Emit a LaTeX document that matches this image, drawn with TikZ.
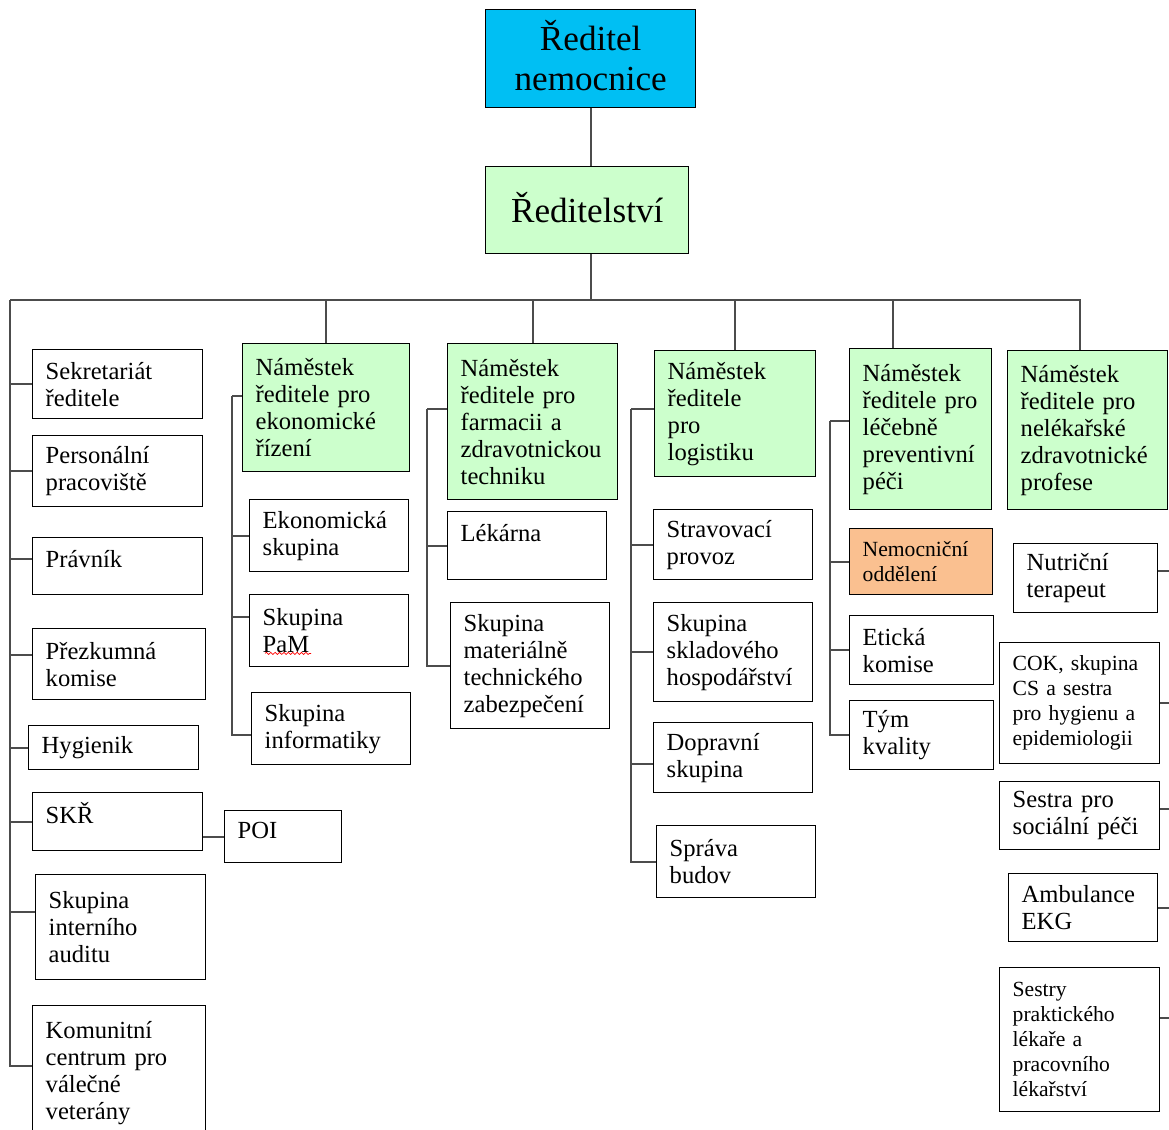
\documentclass[tikz,border=0pt]{standalone}
\usepackage{fontspec}
\setmainfont{Liberation Serif}
\usetikzlibrary{decorations.pathmorphing}
\newcommand{\pxu}{0.02cm}
\definecolor{dircyan}{RGB}{0,191,243}
\definecolor{depgreen}{RGB}{204,255,204}
\definecolor{wardorange}{RGB}{250,192,144}
\tikzset{bx/.style 2 args={draw, line width=.8pt, anchor=north west, align=left,
    inner xsep=13*\pxu, inner ysep=2pt, minimum width=#1*\pxu,
    minimum height=#2*\pxu, text width=(#1-26)*\pxu,
    execute at begin node={\hyphenpenalty=10000},
    font=\fontsize{14}{15.4}\selectfont}}
\tikzset{big/.style={font=\fontsize{20}{22.7}\selectfont, align=center, text height=14pt}}
\tikzset{smalltxt/.style={font=\fontsize{12.3}{14.2}\selectfont}}
\tikzset{ln/.style={draw=black!70, line width=.9pt}}

\begin{document}
\begin{tikzpicture}[x=\pxu, y=-\pxu]
    \path[fill=white, use as bounding box] (0,0) rectangle (1169,1129);
    % top
    \node[bx={210}{98}, fill=dircyan, big] (red) at (485,9) {Ředitel\\nemocnice};
    \node[bx={203}{87}, fill=depgreen, big] (redst) at (485,166) {Ředitelství};
    \coordinate (bl) at (10,300);
    % left column
    \node[bx={170}{69}] (sekr) at (32,349) {Sekretariát\\ředitele};
    \node[bx={170}{71}] (pers) at (32,435) {Personální\\pracoviště};
    \node[bx={170}{57}, text depth=8pt] (prav) at (32,537) {Právník};
    \node[bx={173}{71}] (prez) at (32,628) {Přezkumná\\komise};
    \node[bx={170}{44}] (hyg) at (28,725) {Hygienik};
    \node[bx={170}{58}, text depth=10pt] (skr) at (32,792) {SKŘ};
    \node[bx={117}{52}, text depth=7pt] (poi) at (224,810) {POI};
    \node[bx={170}{105}] (aud) at (35,874) {Skupina\\interního\\auditu};
    \node[bx={173}{135}] (kom) at (32,1005) {Komunitní\\centrum pro\\válečné\\veterány};
    % ekonomika
    \node[bx={167}{128}, fill=depgreen] (ekon) at (242,343) {Náměstek\\ředitele pro\\ekonomické\\řízení};
    \node[bx={159}{72}] (eks) at (249,499) {Ekonomická\\skupina};
    \node[bx={159}{72}] (pam) at (249,594) {Skupina\\PaM};
    \node[bx={159}{72}] (inf) at (251,692) {Skupina\\informatiky};
    % farmacie
    \node[bx={170}{156}, fill=depgreen] (farm) at (447,343) {Náměstek\\ředitele pro\\farmacii a\\zdravotnickou\\techniku};
    \node[bx={159}{68}, text depth=14pt] (lek) at (447,511) {Lékárna};
    \node[bx={159}{126}] (mat) at (450,602) {Skupina\\materiálně\\technického\\zabezpečení};
    % logistika
    \node[bx={161}{126}, fill=depgreen] (logi) at (654,350) {Náměstek\\ředitele\\pro\\logistiku};
    \node[bx={159}{70}] (strav) at (653,509) {Stravovací\\provoz};
    \node[bx={159}{99}] (sklad) at (653,602) {Skupina\\skladového\\hospodářství};
    \node[bx={159}{70}] (dopr) at (653,722) {Dopravní\\skupina};
    \node[bx={159}{72}] (sprava) at (656,825) {Správa\\budov};
    % lecebne preventivni pece
    \node[bx={142}{161}, fill=depgreen] (lec) at (849,348) {Náměstek\\ředitele pro\\léčebně\\preventivní\\péči};
    \node[bx={143}{66}, fill=wardorange, smalltxt] (nem) at (849,528) {Nemocniční\\oddělení};
    \node[bx={144}{69}] (etik) at (849,615) {Etická\\komise};
    \node[bx={144}{69}] (tym) at (849,700) {Tým\\kvality};
    % nelekarske profese
    \node[bx={160}{159}, fill=depgreen] (nelek) at (1007,350) {Náměstek\\ředitele pro\\nelékařské\\zdravotnické\\profese};
    \node[bx={144}{69}] (nutr) at (1013,543) {Nutriční\\terapeut};
    \node[bx={160}{121}, smalltxt] (cok) at (999,642) {COK, skupina\\CS a sestra\\pro hygienu a\\epidemiologii};
    \node[bx={160}{68}] (soc) at (999,781) {Sestra pro\\sociální péči};
    \node[bx={149}{68}] (amb) at (1008,873) {Ambulance\\EKG};
    \node[bx={160}{144}, smalltxt] (sestry) at (999,967) {Sestry\\praktického\\lékaře a\\pracovního\\lékařství};
    \coordinate (rsp) at (1178,509);

    \draw[red, decorate, decoration={snake, amplitude=.6pt, segment length=2.5pt}]
        ([shift={(16,-14)}]pam.south west) -- ++(46,0);

    % connectors
    \draw[ln] (red.south) -- (red.south |- redst.north);
    \draw[ln] (red.south |- redst.south) |- (bl);
    \draw[ln] (bl) -| ([xshift=-.16cm]nelek.north);
    \draw[ln] (bl) -| (ekon.north);
    \draw[ln] (bl) -| (farm.north);
    \draw[ln] (bl) -| (logi.north);
    \draw[ln] (bl) -| ([xshift=-.56cm]lec.north);
    \foreach \n in {sekr,pers,hyg,skr}
        \draw[ln] (bl) |- (\n.west);
    \draw[ln] (bl) |- ([yshift=.14cm]prav.west);
    \draw[ln] (bl) |- ([yshift=.18cm]prez.west);
    \draw[ln] (bl) |- ([yshift=.3cm]aud.west);
    \draw[ln] (bl) |- ([yshift=.14cm]kom.west);
    \draw[ln] (poi.west) -- (poi.west -| skr.east);

    \draw[ln] ([yshift=.24cm]ekon.west) -- ++(-10,0) coordinate (ekt);
    \draw[ln] (ekt) |- (eks.west);
    \draw[ln] (ekt) |- ([yshift=.28cm]pam.west);
    \draw[ln] (ekt) |- ([yshift=-.12cm]inf.west);

    \draw[ln] ([yshift=.26cm]farm.west) -- ++(-20,0) coordinate (fat);
    \foreach \n in {lek,mat}
        \draw[ln] (fat) |- (\n.west);

    \draw[ln] ([yshift=.1cm]logi.west) -- ++(-23,0) coordinate (lot);
    \foreach \n in {strav,sklad,sprava}
        \draw[ln] (lot) |- (\n.west);
    \draw[ln] (lot) |- ([yshift=-.12cm]dopr.west);

    \draw[ln] ([yshift=.16cm]lec.west) -- ++(-19,0) coordinate (let);
    \foreach \n in {nem,etik,tym}
        \draw[ln] (let) |- (\n.west);

    \foreach \n in {cok,amb}
        \draw[ln] (rsp) |- (\n.east);
    \draw[ln] (rsp) |- ([yshift=.14cm]nutr.east);
    \draw[ln] (rsp) |- ([yshift=.14cm]soc.east);
    \draw[ln] (rsp) |- ([yshift=.44cm]sestry.east);
\end{tikzpicture}
\end{document}
